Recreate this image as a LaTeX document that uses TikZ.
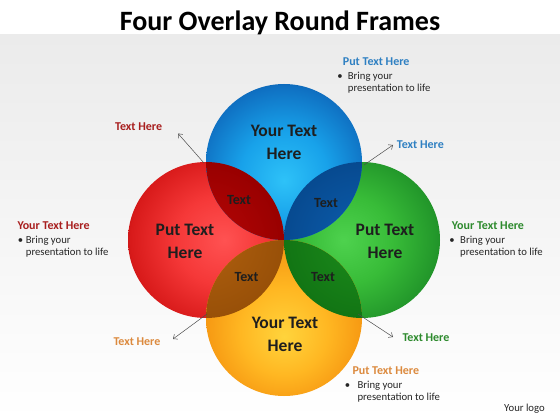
\documentclass[tikz,border=0pt]{standalone}
\usepackage{fontspec}
\setmainfont{Carlito}
\usetikzlibrary{arrows.meta}
\definecolor{bgTop}{HTML}{EBEBEB}
\definecolor{txtDark}{HTML}{1E1E1E}
\definecolor{bodyTxt}{HTML}{262626}
\definecolor{hdBlue}{HTML}{2F80C2}
\definecolor{hdRed}{HTML}{A81E1E}
\definecolor{hdGreen}{HTML}{2D8A2D}
\definecolor{hdOrange}{HTML}{DC8A3E}
% ball colours
\definecolor{bA}{HTML}{2EC2F8}\definecolor{bB}{HTML}{18A2EA}\definecolor{bC}{HTML}{0F70C2}\definecolor{bD}{HTML}{0A559E}
\definecolor{rA}{HTML}{FF5252}\definecolor{rB}{HTML}{F53838}\definecolor{rC}{HTML}{D81A1A}\definecolor{rD}{HTML}{B00C0C}
\definecolor{gA}{HTML}{4ED24E}\definecolor{gB}{HTML}{38BC38}\definecolor{gC}{HTML}{22962A}\definecolor{gD}{HTML}{17781C}
\definecolor{oA}{HTML}{FFD43C}\definecolor{oB}{HTML}{FFB722}\definecolor{oC}{HTML}{F59410}\definecolor{oD}{HTML}{E07A05}
% lens colours
\definecolor{lRB}{HTML}{B80606}\definecolor{lRBo}{HTML}{980000}
\definecolor{lBG}{HTML}{0C5EAE}\definecolor{lBGo}{HTML}{074A90}
\definecolor{lRO}{HTML}{B0600F}\definecolor{lROo}{HTML}{985008}
\definecolor{lGO}{HTML}{1C8C1C}\definecolor{lGOo}{HTML}{127514}
\pgfdeclareradialshading{ballblue}{\pgfpoint{0bp}{-6bp}}{color(0bp)=(bA); color(14bp)=(bB); color(27bp)=(bC); color(31bp)=(bD); color(50bp)=(bD)}
\pgfdeclareradialshading{ballred}{\pgfpoint{6bp}{0bp}}{color(0bp)=(rA); color(14bp)=(rB); color(27bp)=(rC); color(31bp)=(rD); color(50bp)=(rD)}
\pgfdeclareradialshading{ballgreen}{\pgfpoint{-6bp}{0bp}}{color(0bp)=(gA); color(14bp)=(gB); color(27bp)=(gC); color(31bp)=(gD); color(50bp)=(gD)}
\pgfdeclareradialshading{ballorange}{\pgfpoint{0bp}{-6bp}}{color(0bp)=(oA); color(14bp)=(oB); color(27bp)=(oC); color(31bp)=(oD); color(50bp)=(oD)}
% #1 name, #2 heading x, #3 heading baseline, #4 colour, #5 heading, #6 bullet centre x, #7 body x
\newcommand\infoblock[7]{%
  \node[hd,text=#4,anchor=base west] (#1) at (#2,#3) {#5};
  \node[bd,anchor=base] (#1b) at (#6,#3+14) {\textbullet};
  \node[bd,anchor=base west] (#1x) at (#7,#3+14) {Bring your};
  \node[bd,anchor=base west] (#1y) at (#7,#3+26.5) {presentation to life};
}
\begin{document}
\begin{tikzpicture}[x=1pt,y=-1pt,
  hd/.style={font=\fontsize{12}{14}\selectfont\bfseries, inner sep=0},
  bd/.style={font=\fontsize{10.7}{13}\selectfont, text=bodyTxt, inner sep=0},
  big/.style={font=\fontsize{17.5}{23}\selectfont\bfseries, text=txtDark, align=center, inner sep=0},
  lenstxt/.style={font=\fontsize{14}{16}\selectfont\bfseries, text=txtDark, inner sep=0},
  arr/.style={draw=black!70, line width=0.5pt, -{Straight Barb[length=3.5pt,width=6pt]}}]
\useasboundingbox (0,0) rectangle (560,420);
\fill[white] (0,0) rectangle (560,420);
\shade[top color=bgTop,bottom color=white] (0,35) rectangle (560,420);
% title
\node[font=\fontsize{28}{32}\selectfont\bfseries, text=black, inner sep=0, anchor=base] (title) at (280,31) {Four Overlay Round Frames};
% circle centres
\coordinate (O) at (284,240);
\coordinate (cB) at (284,162);
\coordinate (cR) at (206,240);
\coordinate (cG) at (362,240);
\coordinate (cO) at (284,318);
\def\rr{78}
% balls
\shade[shading=ballred] (cR) circle (\rr);
\shade[shading=ballgreen] (cG) circle (\rr);
\shade[shading=ballorange] (cO) circle (\rr);
\shade[shading=ballblue] (cB) circle (\rr);
% lenses
\begin{scope}\clip (cB) circle (\rr);
  \shade[inner color=lRB, outer color=lRBo] (cR) circle (\rr);
  \shade[inner color=lBG, outer color=lBGo] (cG) circle (\rr);
\end{scope}
\begin{scope}\clip (cO) circle (\rr);
  \shade[inner color=lRO, outer color=lROo] (cR) circle (\rr);
  \shade[inner color=lGO, outer color=lGOo] (cG) circle (\rr);
\end{scope}
% circle texts
\node[big] (tB) at (284,142.5) {Your Text\\Here};
\node[big] (tR) at (185,241) {Put Text\\Here};
\node[big] (tG) at (385,241) {Put Text\\Here};
\node[big] (tO) at (285,334) {Your Text\\Here};
\node[lenstxt] (lRB) at (239,200) {Text};
\node[lenstxt] (lBG) at (326,203) {Text};
\node[lenstxt] (lRO) at (246.5,277.5) {Text};
\node[lenstxt] (lGO) at (323,277.5) {Text};
% info blocks
\infoblock{iB}{342.7}{65.5}{hdBlue}{Put Text Here}{340}{347.7}
\infoblock{iR}{17.3}{229}{hdRed}{Your Text Here}{20.5}{25.7}
\infoblock{iG}{451.7}{229}{hdGreen}{Your Text Here}{452}{460}
\infoblock{iO}{352.3}{374}{hdOrange}{Put Text Here}{347.5}{357.3}
% small labels
\node[hd,text=hdRed,anchor=base west] (sR) at (115,131) {Text Here};
\node[hd,text=hdBlue,anchor=base west] (sB) at (396.7,148) {Text Here};
\node[hd,text=hdOrange,anchor=base west] (sO) at (113.3,345.5) {Text Here};
\node[hd,text=hdGreen,anchor=base west] (sG) at (402.3,341) {Text Here};
\node[font=\fontsize{10.7}{13}\selectfont, text=bodyTxt, inner sep=0, anchor=base west] (logo) at (504,411) {Your logo};
% arrows
\coordinate (a1s) at (204,163); \coordinate (a1e) at (178,133.5);
\coordinate (a2s) at (364,165); \coordinate (a2e) at (393,145);
\coordinate (a3s) at (207,314); \coordinate (a3e) at (173,339);
\coordinate (a4s) at (358,314); \coordinate (a4e) at (393,337);
\draw[arr] (a1s) -- (a1e);
\draw[arr] (a2s) -- (a2e);
\draw[arr] (a3s) -- (a3e);
\draw[arr] (a4s) -- (a4e);
\end{tikzpicture}
\end{document}
